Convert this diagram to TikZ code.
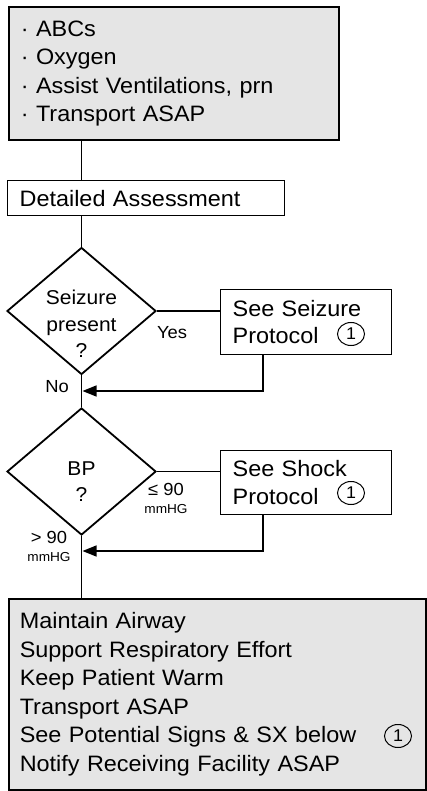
\documentclass[tikz,border=0pt]{standalone}
\usepackage{fontspec}
\setmainfont[FakeStretch=1.05]{Liberation Sans}
\usepackage{tikz}
\usetikzlibrary{positioning,arrows.meta,shapes.geometric,calc}
\definecolor{boxgray}{gray}{0.9}

\begin{document}
\begin{tikzpicture}[x=1pt, y=-1pt,
        graybox/.style={draw, line width=1.6pt, fill=boxgray, align=left, anchor=north west, font=\fontsize{22.3}{28.5}\selectfont},
        plainbox/.style={draw, line width=1.3pt, align=left, anchor=north west, inner xsep=12pt, font=\fontsize{22.3}{27.5}\selectfont},
        decision/.style={draw, diamond, line width=1.8pt, minimum width=149pt, minimum height=127pt, inner sep=0pt},
        dtext/.style={align=center, font=\fontsize{20}{26.5}\selectfont},
        refmark/.style={draw, ellipse, line width=1pt, minimum width=27pt, minimum height=23pt, inner sep=0pt, font=\fontsize{17}{17}\selectfont},
        flow/.style={line width=1.3pt},
        lbl/.style={align=center, font=\fontsize{17.5}{18}\selectfont},
        unit/.style={font=\fontsize{13}{13}\selectfont},
        >={Triangle[length=14pt, width=11pt]}]
        \useasboundingbox (0,0) rectangle (427,791);

        % Initial care
        \node[graybox, minimum width=330pt, minimum height=133pt, inner xsep=12pt, text width=306pt] (initial) at (8,6)
            {· ABCs\\· Oxygen\\· Assist Ventilations, prn\\· Transport ASAP};

        \node[plainbox, minimum width=277pt, minimum height=35pt, inner xsep=12pt, text width=253pt] (detail) at (7,180) {Detailed Assessment};

        % Decisions
        \node[decision] (seizure) at (81.5,311) {};
        \node[dtext] (seizuretxt) at (81.5,324) {Seizure\\present\\?};

        \node[decision] (bp) at (81.5,471.5) {};
        \node[dtext] (bptxt) at (81.5,481.5) {BP\\?};

        % Protocol boxes
        \node[plainbox, minimum width=171pt, minimum height=65pt, text width=147pt] (seizurebox) at (220,289) {See Seizure\\Protocol};
        \node[refmark] (ref1) at (351,334) {1};

        \node[plainbox, minimum width=171pt, minimum height=64pt, text width=147pt] (shockbox) at (220,450) {See Shock\\Protocol};
        \node[refmark] (ref2) at (351,493) {1};

        % Ongoing care
        \node[graybox, minimum width=417pt, minimum height=191pt, inner xsep=11pt, text width=395pt] (care) at (8,598)
            {Maintain Airway\\Support Respiratory Effort\\Keep Patient Warm\\Transport ASAP\\See Potential Signs \& SX below\\Notify Receiving Facility ASAP};
        \node[refmark] (ref3) at (398,736) {1};

        % Labels
        \node[lbl] (yes) at (172,333) {Yes};
        \node[lbl] (no) at (57,387) {No};
        \node[lbl] (low) at (166,489) {≤ 90};
        \node[unit] (lowunit) at (166,509) {mmHG};
        \node[lbl] (high) at (49,537) {> 90};
        \node[unit] (highunit) at (49,557) {mmHG};

        \coordinate (join1) at (82.5,391);
        \coordinate (join2) at (82.5,551);

        % Connectors
        \draw[flow] (seizure.north |- initial.south) -- (seizure.north |- detail.north);
        \draw[flow] (seizure.north |- detail.south) -- (seizure.north);
        \draw[flow] (seizure.east) -- (seizure.east -| seizurebox.west);
        \draw[flow, ->] ($(seizurebox.south west)!0.25!(seizurebox.south east)$) |- (join1);
        \draw[flow] (seizure.south) -- (bp.north);
        \draw[flow] (bp.east) -- (bp.east -| shockbox.west);
        \draw[flow, ->] ($(shockbox.south west)!0.25!(shockbox.south east)$) |- (join2);
        \draw[flow] (bp.south) -- (bp.south |- care.north);
    \end{tikzpicture}
\end{document}
